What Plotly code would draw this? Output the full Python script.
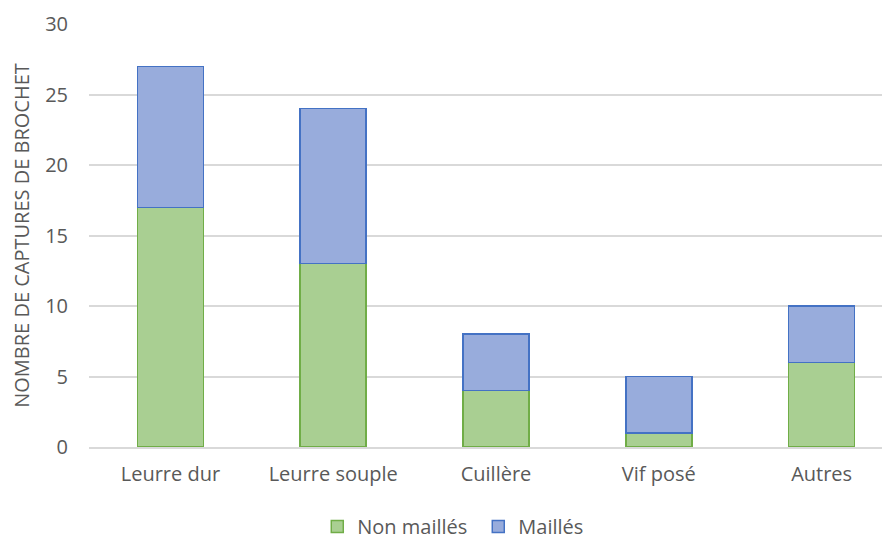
import plotly.graph_objects as go

# Catch data: pike captures by lure type
categories = ["Leurre dur", "Leurre souple", "Cuillère", "Vif posé", "Autres"]
non_mailles = [17, 13, 4, 1, 6]
mailles = [10, 11, 4, 4, 4]

fig = go.Figure()

fig.add_trace(go.Bar(
    x=categories,
    y=non_mailles,
    name="Non maillés",
    marker=dict(color="#a9cf92", line=dict(color="#70ad47", width=1.5)),
))

fig.add_trace(go.Bar(
    x=categories,
    y=mailles,
    name="Maillés",
    marker=dict(color="#98acdc", line=dict(color="#4472c4", width=1.5)),
))

# page body adds an 8px offset, margins compensate for it
fig.update_layout(
    barmode="stack",
    bargap=0.595,
    width=890,
    height=548,
    margin=dict(l=81, r=8, t=16, b=109),
    plot_bgcolor="white",
    paper_bgcolor="white",
    font=dict(family="Open Sans", size=20, color="#595959"),
    legend=dict(
        orientation="h",
        x=0.285, xanchor="left",
        y=-0.188, yanchor="middle",
        font=dict(size=20, color="#595959"),
        entrywidth=116,
        entrywidthmode="pixels",
        traceorder="normal",
    ),
    xaxis=dict(
        range=[-0.5, 4.42],
        showgrid=False,
        showline=True,
        linecolor="#d9d9d9",
        linewidth=1.5,
        ticks="",
        ticklabelstandoff=8,
        automargin=False,
    ),
    yaxis=dict(
        range=[0, 30],
        dtick=5,
        showgrid=True,
        gridcolor="#d9d9d9",
        gridwidth=1.5,
        zeroline=False,
        ticks="",
        ticklabelstandoff=20,
        automargin=False,
        title=dict(
            text="NOMBRE DE CAPTURES DE BROCHET",
            font=dict(size=20, color="#595959"),
        ),
    ),
)

fig.write_html("out.html")
